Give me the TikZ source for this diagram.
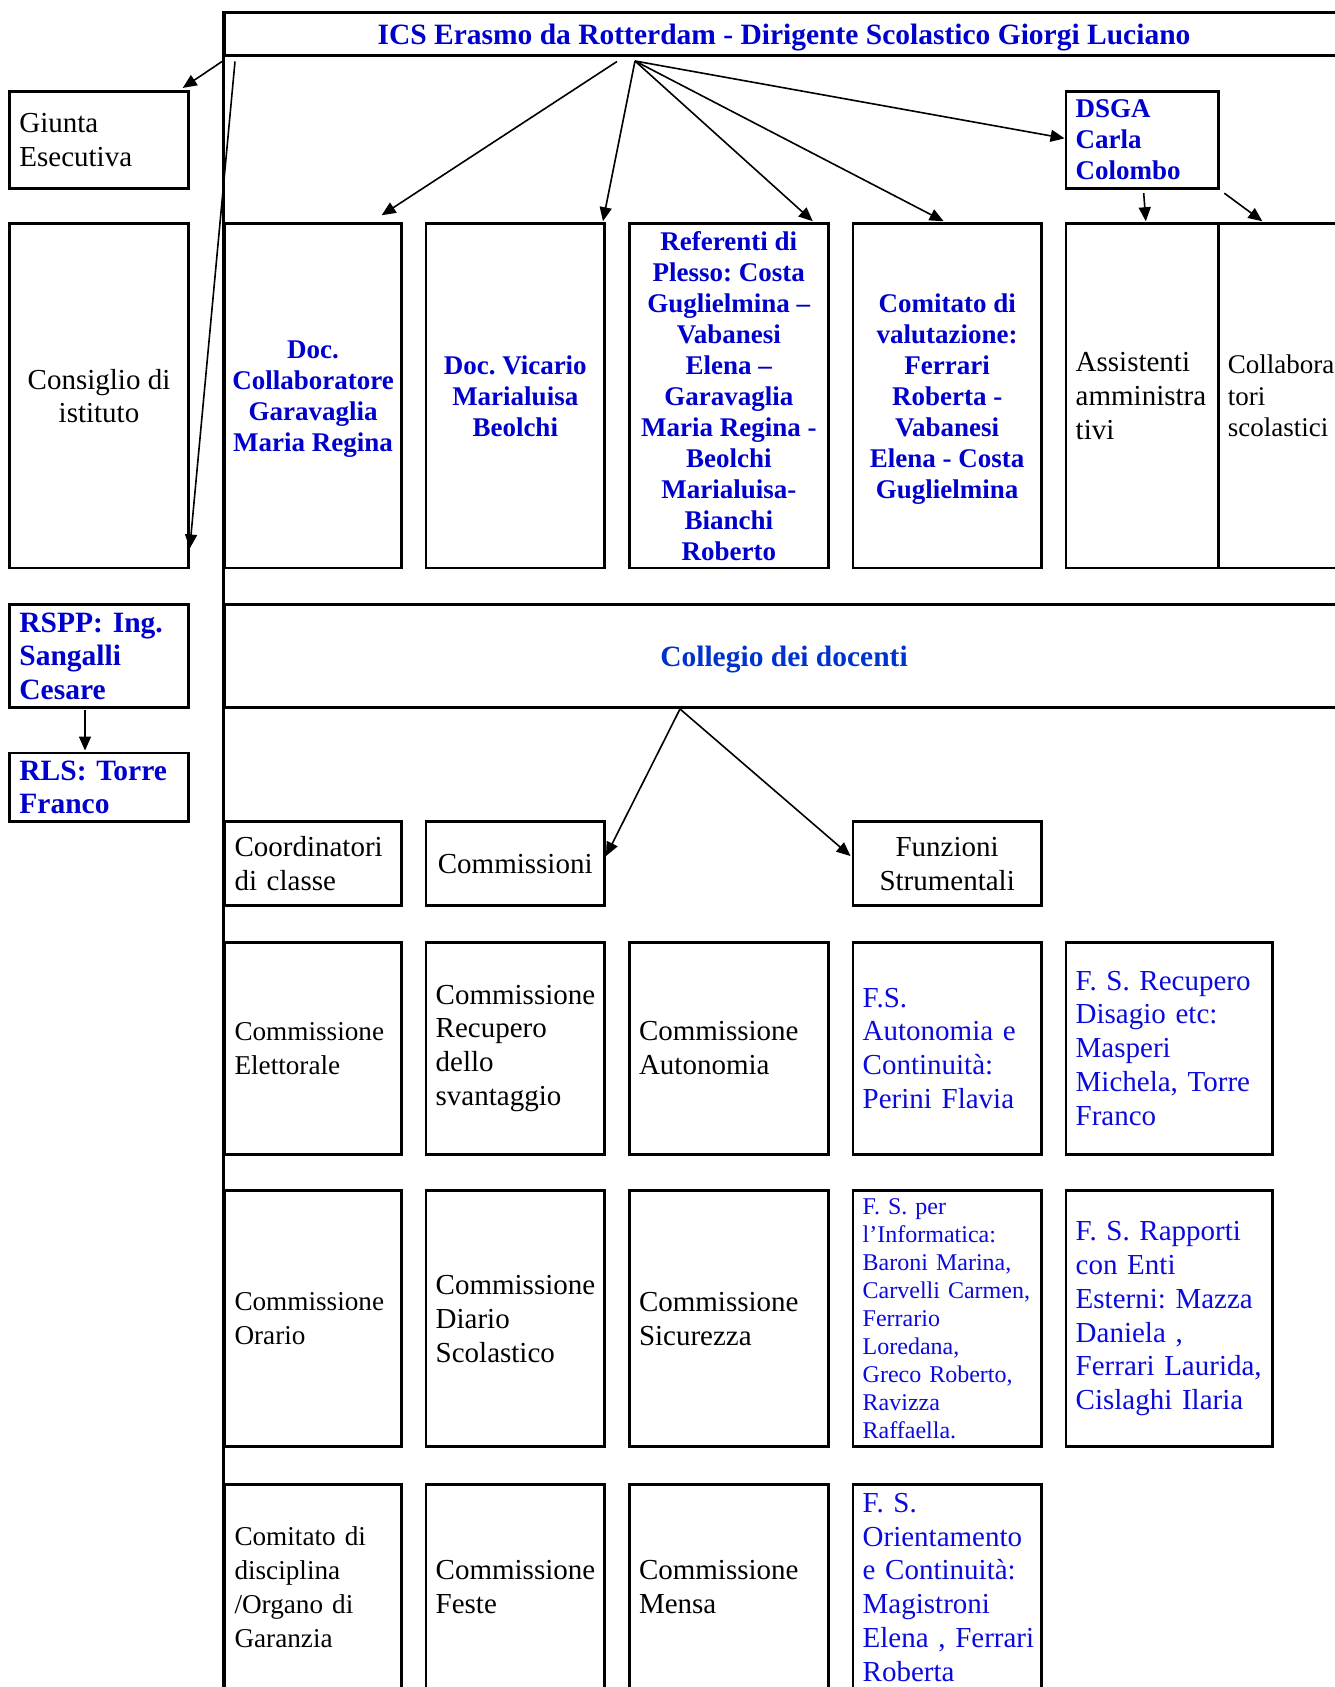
\documentclass[tikz,border=0pt]{standalone}
\usepackage{fontspec}
\setmainfont{Liberation Serif}
\usetikzlibrary{arrows.meta}
\definecolor{boldblue}{RGB}{0,0,204}
\definecolor{collblue}{RGB}{0,51,204}
\definecolor{fsblue}{RGB}{10,10,220}
% labels keep their lines exactly as written: no hyphenation, ties inside lines
\newcommand\nohyph{\frenchspacing\hyphenpenalty=10000\exhyphenpenalty=10000}

\begin{document}
\begin{tikzpicture}[x=1pt,y=-1pt,
  frame/.style={draw, line width=2.9pt, rectangle, inner sep=0pt, inner xsep=9.7pt},
  regtext/.style={font=\nohyph\fontsize{29}{33.8}\selectfont, text=black},
  narrowtext/.style={font=\nohyph\fontsize{27.2}{33.8}\selectfont, text=black},
  boldtext/.style={font=\nohyph\bfseries\fontsize{27}{31}\selectfont, text=boldblue},
  sidebold/.style={font=\nohyph\bfseries\fontsize{29.5}{33.5}\selectfont, text=boldblue},
  headtext/.style={font=\nohyph\bfseries\fontsize{29.5}{34}\selectfont, text depth=0pt},
  fstext/.style={font=\nohyph\fontsize{29}{33.8}\selectfont, text=fsblue},
  fssmall/.style={font=\nohyph\fontsize{24}{28.1}\selectfont, text=fsblue},
  mid/.style={align=center, text depth=0pt, inner xsep=0pt},
  colL/.style={minimum width=178.6pt, text width=159.2pt, align=left},
  colA/.style={minimum width=176.4pt, text width=157pt, align=left},
  colB/.style={minimum width=178.5pt, text width=159.1pt, align=left},
  colC/.style={minimum width=199pt, text width=179.6pt, align=left},
  colD/.style={minimum width=188.3pt, text width=168.9pt, align=left},
  colE/.style={minimum width=152.8pt, text width=133.4pt, align=left},
  colF/.style={minimum width=206.6pt, text width=187.2pt, align=left},
  colR/.style={minimum width=201.2pt, text width=183pt, align=left},
  link/.style={line width=1.6pt, -{Triangle[length=14pt,width=12pt]}},
  rule/.style={line width=2.9pt}
]
\useasboundingbox (0,0) rectangle (1335,1687);
\clip (0,0) rectangle (1335,1687);

% head of the school and the full-width band of the teachers' board
\node[frame, headtext, text=boldblue, minimum width=1118.4pt, minimum height=43pt] (title) at (784,34.4)
  {ICS Erasmo da Rotterdam - Dirigente Scolastico Giorgi Luciano};
\coordinate (pagebottom) at (224.8,1700);
\draw[rule] (title.north west) -- (title.north west |- pagebottom);

\node[frame, headtext, text=collblue, minimum width=1118.4pt, minimum height=103.3pt] (collegio) at (784,656.15)
  {Collegio dei docenti};

% left column
\node[frame, regtext, colL, minimum height=96.9pt] (giunta) at (99,139.85) {Giunta\\Esecutiva};
\node[frame, regtext, mid, minimum width=178.6pt, minimum height=344.3pt] (consiglio) at (99,395.85) {Consiglio di\\istituto};
\node[frame, sidebold, colL, minimum height=103.3pt] (rspp) at (99,656.15) {RSPP:~Ing.\\Sangalli\\Cesare};
\node[frame, sidebold, colL, minimum height=68.8pt] (rls) at (99,787.4) {RLS:~Torre\\Franco};

% staff row under the head
\node[frame, boldtext, mid, minimum width=176.4pt, minimum height=344.3pt] (collab) at (313,395.85)
  {Doc.\\Collaboratore\\Garavaglia\\Maria Regina};
\node[frame, boldtext, mid, minimum width=178.5pt, minimum height=344.3pt] (vicario) at (515.25,395.85)
  {Doc. Vicario\\Marialuisa\\Beolchi};
\node[frame, boldtext, mid, minimum width=199pt, minimum height=344.3pt] (referenti) at (728.8,395.85)
  {Referenti di\\Plesso: Costa\\Guglielmina –\\Vabanesi\\Elena –\\Garavaglia\\Maria Regina -\\Beolchi\\Marialuisa-\\Bianchi\\Roberto};
\node[frame, boldtext, mid, minimum width=188.3pt, minimum height=344.3pt] (comval) at (947.15,395.85)
  {Comitato di\\valutazione:\\Ferrari\\Roberta -\\Vabanesi\\Elena - Costa\\Guglielmina};
\node[frame, boldtext, colE, minimum height=96.9pt] (dsga) at (1142.4,139.85) {DSGA\\Carla\\Colombo};
\node[frame, regtext, colE, minimum height=344.3pt] (assist) at (1142.4,395.85) {Assistenti\\amministra\\tivi};
\node[frame, regtext, font=\fontsize{27}{31.5}\selectfont, colR, inner xsep=8.6pt, minimum height=344.3pt] (collabsc) at (1319.4,395.85)
  {Collabora\\tori\\scolastici};

% groups of the teachers' board
\node[frame, regtext, colA, minimum height=83.9pt] (coord) at (313,863.75) {Coordinatori\\di~classe};
\node[frame, regtext, mid, minimum width=178.5pt, minimum height=83.9pt] (commissioni) at (515.25,863.75) {Commissioni};
\node[frame, regtext, mid, minimum width=188.3pt, minimum height=83.9pt] (funzioni) at (947.15,863.75) {Funzioni\\Strumentali};

% committees and instrumental functions
\node[frame, narrowtext, colA, minimum height=211.9pt] (elettorale) at (313,1048.25) {Commissione\\Elettorale};
\node[frame, regtext, colB, minimum height=211.9pt] (recupero) at (515.25,1048.25) {Commissione\\Recupero\\dello\\svantaggio};
\node[frame, regtext, colC, minimum height=211.9pt] (autonomia) at (728.8,1048.25) {Commissione\\Autonomia};
\node[frame, fstext, colD, minimum height=211.9pt] (fsauto) at (947.15,1048.25) {F.S.\\Autonomia~e\\Continuità:\\Perini~Flavia};
\node[frame, fstext, colF, minimum height=211.9pt] (fsrecup) at (1169.3,1048.25) {F.~S.~Recupero\\Disagio~etc:\\Masperi\\Michela,~Torre\\Franco};

\node[frame, narrowtext, colA, minimum height=256pt] (orario) at (313,1318.8) {Commissione\\Orario};
\node[frame, regtext, colB, minimum height=256pt] (diario) at (515.25,1318.8) {Commissione\\Diario\\Scolastico};
\node[frame, regtext, colC, minimum height=256pt] (sicurezza) at (728.8,1318.8) {Commissione\\Sicurezza};
\node[frame, fssmall, colD, minimum height=256pt] (fsinfo) at (947.15,1318.8)
  {F.~S.~per\\l'Informatica:\\Baroni~Marina,\\Carvelli~Carmen,\\Ferrario\\Loredana,\\Greco~Roberto,\\Ravizza\\Raffaella.};
\node[frame, fstext, colF, minimum height=256pt] (fsrapporti) at (1169.3,1318.8)
  {F.~S.~Rapporti\\con~Enti\\Esterni:~Mazza\\Daniela~,\\Ferrari~Laurida,\\Cislaghi~Ilaria};

\node[frame, narrowtext, colA, minimum height=205.5pt] (disciplina) at (313,1587.25) {Comitato~di\\disciplina\\/Organo~di\\Garanzia};
\node[frame, regtext, colB, minimum height=205.5pt] (feste) at (515.25,1587.25) {Commissione\\Feste};
\node[frame, regtext, colC, minimum height=205.5pt] (mensa) at (728.8,1587.25) {Commissione\\Mensa};
\node[frame, fstext, colD, minimum height=205.5pt] (fsorient) at (947.15,1587.25)
  {F.~S.\\Orientamento\\e~Continuità:\\Magistroni\\Elena~,~Ferrari\\Roberta};

% connectors from the head
\coordinate (leftA) at (222,61.5);
\coordinate (leftB) at (235,61.5);
\coordinate (midA) at (617,61.5);
\coordinate (fan) at (635,61);
\draw[link] (leftA) -- ([xshift=-7pt,yshift=2pt]giunta.north east);
\draw[link] (leftB) -- ([yshift=21pt]consiglio.south east);
\draw[link] (midA) -- ([xshift=-21pt,yshift=7pt]collab.north east);
\draw[link] (fan) -- ([xshift=-3pt,yshift=1pt]vicario.north east);
\draw[link] (fan) -- ([xshift=-17pt,yshift=1pt]referenti.north east);
\draw[link] (fan) -- ([xshift=-3.5pt,yshift=1pt]comval.north);
\draw[link] (fan) -- ([yshift=1.5pt]dsga.west);
\draw[link] ([xshift=1.3pt,yshift=-3.4pt]dsga.south) -- ([xshift=3.4pt,yshift=1pt]assist.north);
\draw[link] ([xshift=4pt,yshift=-3.4pt]dsga.south east) -- ([xshift=45pt,yshift=1pt]collabsc.north west);

% safety officers
\draw[link] ([xshift=-14pt,yshift=-1pt]rspp.south) -- ([xshift=-14pt,yshift=1pt]rls.north);

% connectors from the teachers' board
\coordinate (cfan) at (680,709);
\draw[link] (cfan) -- ([yshift=7.7pt]commissioni.east);
\draw[link] (cfan) -- ([xshift=-1pt,yshift=7.7pt]funzioni.west);
\end{tikzpicture}
\end{document}
